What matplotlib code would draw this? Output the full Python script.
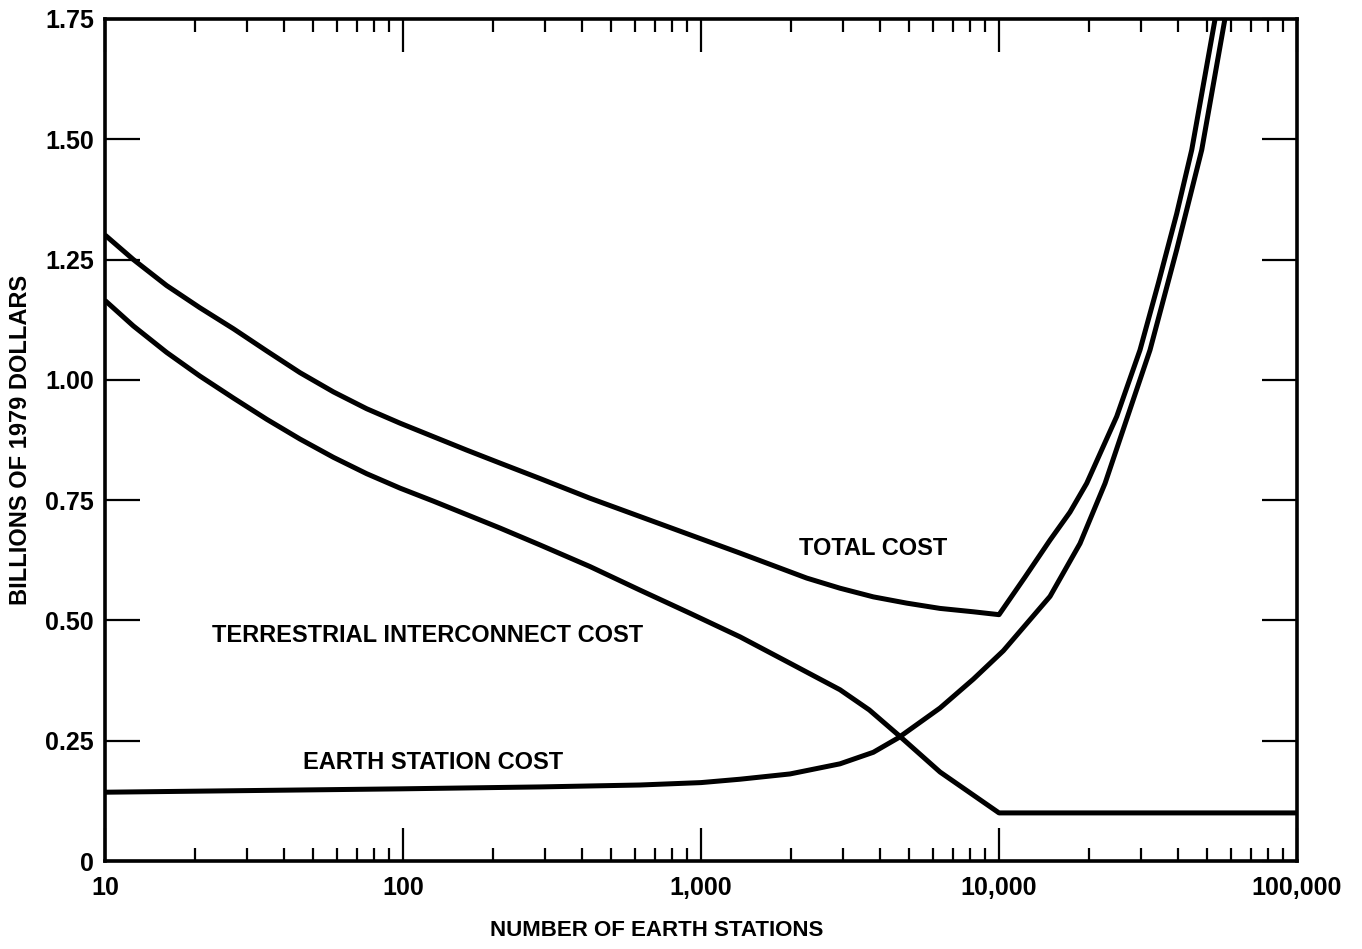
import numpy as np
import matplotlib.pyplot as plt
from matplotlib.ticker import FixedLocator, LogLocator, NullFormatter

# number of earth stations and costs in billions of 1979 dollars
stations_total = [10, 12.45, 16.1, 20.8, 27, 34.9, 45.1, 58.4, 75.5, 97.7, 126.4, 163.6, 211.6, 288,
                  424, 624, 918, 1351, 1990, 2264, 2926, 3786, 4898, 6339, 8200, 10000,
                  12220, 14830, 17300, 19690, 24830, 29720, 34250, 39450, 44330, 53090]
total_cost = [1.301, 1.250, 1.196, 1.150, 1.106, 1.060, 1.015, 0.975, 0.940, 0.910, 0.882, 0.854, 0.827,
              0.795, 0.754, 0.716, 0.678, 0.640, 0.601, 0.588, 0.567, 0.549, 0.536, 0.525, 0.518, 0.512,
              0.590, 0.667, 0.725, 0.785, 0.924, 1.062, 1.201, 1.345, 1.478, 1.75]

stations_terr = [10, 12.45, 16.1, 20.8, 27, 34.9, 45.1, 58.4, 75.5, 97.7, 126.4, 163.6, 211.6, 288,
                 424, 624, 918, 1351, 1990, 2926, 3670, 4592, 6339, 10000, 100000]
terrestrial_cost = [1.165, 1.112, 1.057, 1.008, 0.962, 0.918, 0.877, 0.839, 0.805, 0.775, 0.748, 0.720,
                    0.692, 0.657, 0.612, 0.563, 0.515, 0.466, 0.411, 0.356, 0.314, 0.262, 0.185, 0.100,
                    0.100]

stations_earth = [10, 97.7, 288, 624, 1000, 1351, 1990, 2926, 3786, 4592, 6339, 8200, 10340, 14830,
                  18700, 22690, 32110, 39450, 47890, 57280]
earth_cost = [0.143, 0.150, 0.154, 0.158, 0.163, 0.170, 0.181, 0.202, 0.226, 0.256, 0.318, 0.378, 0.437,
              0.550, 0.660, 0.785, 1.062, 1.270, 1.478, 1.75]

x_ticks = [10, 100, 1000, 10000, 100000]
x_labels = ['10', '100', '1,000', '10,000', '100,000']
y_ticks = [0, 0.25, 0.5, 0.75, 1.0, 1.25, 1.5, 1.75]
y_labels = ['0', '0.25', '0.50', '0.75', '1.00', '1.25', '1.50', '1.75']

plt.rcParams['font.family'] = ['Liberation Sans', 'DejaVu Sans']
plt.rcParams['font.weight'] = 'bold'

fig = plt.figure(figsize=(13.62, 9.49), dpi=100)
ax = fig.add_axes([0.0771, 0.0927, 0.8752, 0.8873])

line_style = dict(color='black', linewidth=3.6, solid_capstyle='butt', solid_joinstyle='round')
ax.plot(stations_total, total_cost, **line_style)
ax.plot(stations_terr, terrestrial_cost, **line_style)
ax.plot(stations_earth, earth_cost, **line_style)

ax.set_xscale('log')
ax.set_xlim(10, 100000)
ax.set_ylim(0, 1.75)

ax.xaxis.set_major_locator(FixedLocator(x_ticks))
ax.set_xticklabels(x_labels)
ax.xaxis.set_minor_locator(LogLocator(base=10, subs=np.arange(2, 10)))
ax.xaxis.set_minor_formatter(NullFormatter())
ax.set_yticks(y_ticks)
ax.set_yticklabels(y_labels)

ax.tick_params(axis='x', which='major', direction='in', length=24, width=1.6,
               top=True, bottom=True, labelsize=18, pad=11)
ax.tick_params(axis='x', which='minor', direction='in', length=9.5, width=1.6, top=True, bottom=True)
ax.tick_params(axis='y', which='major', direction='in', length=25, width=1.6,
               left=True, right=True, labelsize=18, pad=8)
for spine in ax.spines.values():
    spine.set_linewidth(2.6)

ax.set_xlabel('NUMBER OF EARTH STATIONS', fontsize=16, fontweight='bold')
ax.xaxis.set_label_coords(0.463, -0.070)
ax.set_ylabel('BILLIONS OF 1979 DOLLARS', fontsize=17, fontweight='bold')
ax.yaxis.set_label_coords(-0.061, 0.5)

ax.text(3776, 0.650, 'TOTAL COST', fontsize=17, fontweight='bold', ha='center', va='center')
ax.text(120.8, 0.468, 'TERRESTRIAL INTERCONNECT COST', fontsize=17, fontweight='bold',
        ha='center', va='center')
ax.text(126, 0.204, 'EARTH STATION COST', fontsize=17, fontweight='bold', ha='center', va='center')

fig.savefig('out.png', dpi=100)
